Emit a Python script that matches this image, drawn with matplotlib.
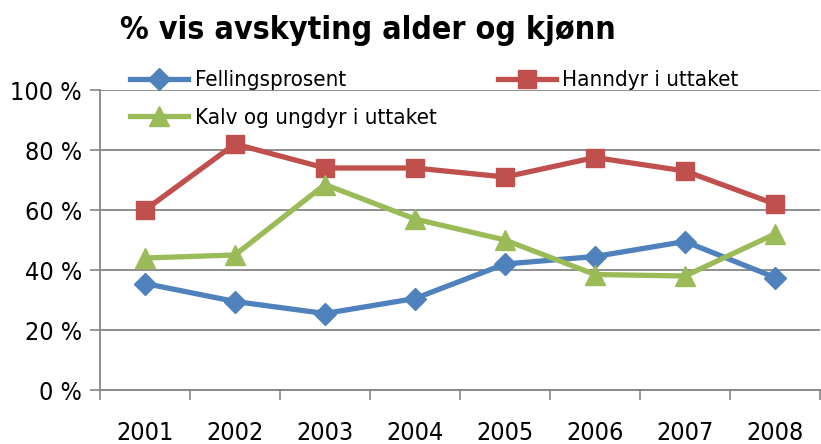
import matplotlib
matplotlib.use("Agg")
import matplotlib.pyplot as plt

years = ["2001", "2002", "2003", "2004", "2005", "2006", "2007", "2008"]
fellingsprosent = [35.5, 29.5, 25.5, 30.5, 42, 44.5, 49.5, 37.5]
hanndyr = [60, 82, 74, 74, 71, 77.5, 73, 62]
kalv = [44, 45, 68.5, 57, 50, 38.5, 38, 52]
yticks = [0, 20, 40, 60, 80, 100]
ylabels = ["0 %", "20 %", "40 %", "60 %", "80 %", "100 %"]

plt.rcParams['font.family'] = ['DejaVu Sans']
plt.rcParams['font.stretch'] = 'condensed'

fig = plt.figure(figsize=(8.21, 4.44), dpi=100)
ax = fig.add_axes([100/821, 1-390/444, 720/821, 300/444])

x = list(range(len(years)))
l1, = ax.plot(x, fellingsprosent, color="#4F81BD", lw=3.8, marker="D", ms=11, label="Fellingsprosent", zorder=3)
l2, = ax.plot(x, hanndyr, color="#C0504D", lw=3.8, marker="s", ms=13, label="Hanndyr i uttaket", zorder=3)
l3, = ax.plot(x, kalv, color="#9BBB59", lw=3.8, marker="^", ms=14, label="Kalv og ungdyr i uttaket", zorder=3)

ax.set_xlim(-0.5, len(years) - 0.5)
ax.set_ylim(0, 100)
ax.set_yticks(yticks)
ax.set_yticklabels(ylabels, fontsize=18)
ax.set_xticks(x)
ax.set_xticklabels(years, fontsize=18)
ax.set_xticks([i - 0.5 for i in range(len(years) + 1)], minor=True)
ax.tick_params(axis='x', which='major', length=0, pad=22)
ax.tick_params(axis='x', which='minor', length=7, color="#868686", width=1.2)
ax.tick_params(axis='y', length=7, color="#868686", width=1.2, pad=6)
ax.grid(axis='y', color="#868686", lw=1.3)
ax.set_axisbelow(True)
for s in ["top", "right"]:
    ax.spines[s].set_visible(False)
for s in ["left", "bottom"]:
    ax.spines[s].set_color("#868686")
    ax.spines[s].set_linewidth(1.3)

leg = ax.legend([l1, l3, l2], [l1.get_label(), l3.get_label(), l2.get_label()],
                ncol=2, loc="upper left", bbox_to_anchor=(0.03, 1.095), frameon=False,
                fontsize=16, handlelength=2.6, columnspacing=2.75, labelspacing=0.8,
                handletextpad=0.3, borderaxespad=0)

fig.text(120/821, 1-30/444, "% vis avskyting alder og kjønn", fontsize=23, fontweight="bold",
         va="center", ha="left")

fig.savefig("out.png", dpi=100)
